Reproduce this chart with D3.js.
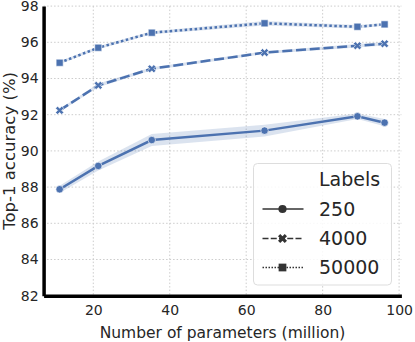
<!DOCTYPE html>
<html>
<head>
<meta charset="utf-8">
<script src="https://cdnjs.cloudflare.com/ajax/libs/d3/7.8.5/d3.min.js"></script>
<style>
  body { margin: 0; background: #fff; }
  svg { font-family: "DejaVu Sans", sans-serif; }
</style>
</head>
<body>
<svg id="main-svg" width="415" height="342"></svg>
<script>
// parameters (million) per model
var params = [11.2, 21.3, 35.3, 64.8, 89.1, 96.2];
var labelSets = ["250", "4000", "50000"];
var acc250 = [87.88, 89.17, 90.60, 91.12, 91.91, 91.56];
var acc4000 = [92.24, 93.62, 94.54, 95.43, 95.81, 95.92];
var acc50000 = [94.87, 95.70, 96.53, 97.05, 96.86, 96.99];
// half width of the confidence band
var ci250 = [0.2, 0.25, 0.33, 0.32, 0.15, 0.2];
var ci4000 = [0.08, 0.1, 0.08, 0.08, 0.1, 0.1];
var ci50000 = [0.08, 0.08, 0.08, 0.12, 0.1, 0.08];
var xTicks = [20, 40, 60, 80, 100];
var yTicks = [82, 84, 86, 88, 90, 92, 94, 96, 98];

var blue = "#4c72b0";
var svg = d3.select("#main-svg");

var x = d3.scaleLinear().domain([7, 100.6]).range([43.6, 401.4]);
var y = d3.scaleLinear().domain([82, 98]).range([295.7, 6.1]);

var series = [
  {name: "250", vals: acc250, ci: ci250, dash: null, marker: "circle"},
  {name: "4000", vals: acc4000, ci: ci4000, dash: "10,3.75", marker: "x"},
  {name: "50000", vals: acc50000, ci: ci50000, dash: "2.5,2.5", marker: "square"}
];

// grid
svg.append("g").selectAll("line.gx")
  .data(xTicks).enter().append("line")
  .attr("x1", d => x(d)).attr("x2", d => x(d))
  .attr("y1", y(98)).attr("y2", y(82))
  .style("stroke", "#cccccc").style("stroke-width", 1).style("stroke-dasharray", "1.5,2");
svg.append("g").selectAll("line.gy")
  .data(yTicks.filter(d => d > 82)).enter().append("line")
  .attr("y1", d => y(d)).attr("y2", d => y(d))
  .attr("x1", x(7)).attr("x2", x(100.6))
  .style("stroke", "#cccccc").style("stroke-width", 1).style("stroke-dasharray", "1.5,2");

var area = d3.area()
  .x(d => x(d.x)).y0(d => y(d.v - d.c)).y1(d => y(d.v + d.c));
var line = d3.line().x(d => x(d.x)).y(d => y(d.v));

function markerPath(type, scale) {
  if (type == "circle") return d3.symbol().type(d3.symbolCircle).size(44 * scale)();
  if (type == "square") return d3.symbol().type(d3.symbolSquare).size(50 * scale)();
  return d3.symbol().type(d3.symbolCross).size(42 * scale)();
}

series.forEach(function(s) {
  var pts = params.map((p, i) => ({x: p, v: s.vals[i], c: s.ci[i]}));
  svg.append("path").datum(pts)
    .attr("d", area)
    .style("fill", blue).style("fill-opacity", 0.2);
  svg.append("path").datum(pts)
    .attr("d", line)
    .style("fill", "none").style("stroke", blue).style("stroke-width", 2.5)
    .style("stroke-dasharray", s.dash);
  svg.append("g").selectAll("path")
    .data(pts).enter().append("path")
    .attr("d", markerPath(s.marker, 1))
    .attr("transform", d => "translate(" + x(d.x) + "," + y(d.v) + ")" + (s.marker == "x" ? " rotate(45)" : ""))
    .style("fill", blue).style("stroke", "#fff").style("stroke-width", 0.6);
});

// axes
var xAxis = svg.append("g").attr("transform", "translate(0," + y(82) + ")")
  .call(d3.axisBottom(x).tickValues(xTicks).tickSize(0).tickPadding(9));
var yAxis = svg.append("g").attr("transform", "translate(" + x(7) + ",0)")
  .call(d3.axisLeft(y).tickValues(yTicks).tickSize(0).tickPadding(5));
[xAxis, yAxis].forEach(function(a) {
  a.select(".domain").style("stroke", "#000").style("stroke-width", 3.5);
  a.selectAll("text").style("font-size", "14px").style("fill", "#262626")
    .style("font-family", "DejaVu Sans");
});

svg.append("text")
  .attr("x", (x(7) + x(100.6)) / 2).attr("y", 338)
  .attr("text-anchor", "middle")
  .style("font-size", "15.5px").style("fill", "#262626")
  .text("Number of parameters (million)");
svg.append("text")
  .attr("transform", "translate(14.5," + (y(90)) + ") rotate(-90)")
  .attr("text-anchor", "middle")
  .style("font-size", "16.5px").style("fill", "#262626")
  .text("Top-1 accuracy (%)");

// legend
var lg = svg.append("g");
lg.append("rect")
  .attr("x", 253.5).attr("y", 163.5).attr("width", 138).attr("height", 121.5)
  .attr("rx", 4)
  .style("fill", "#fff").style("fill-opacity", 0.85)
  .style("stroke", "#dddddd").style("stroke-width", 1);
lg.append("text").attr("x", 319).attr("y", 186)
  .style("font-size", "19px").style("fill", "#262626").text("Labels");
var legDash = [null, "6,2.25", "1.5,1.5"];
var rowY = [209, 238.5, 267.5];
series.forEach(function(s, i) {
  lg.append("line")
    .attr("x1", 262.5).attr("x2", 303.5).attr("y1", rowY[i]).attr("y2", rowY[i])
    .style("stroke", "#333").style("stroke-width", 1.5).style("stroke-dasharray", legDash[i]);
  lg.append("path")
    .attr("d", markerPath(s.marker, 1.2))
    .attr("transform", "translate(282.5," + rowY[i] + ")" + (s.marker == "x" ? " rotate(45)" : ""))
    .style("fill", "#333");
  lg.append("text").attr("x", 319).attr("y", rowY[i] + 6.5)
    .style("font-size", "19px").style("fill", "#262626").text(labelSets[i]);
});
</script>
</body>
</html>
